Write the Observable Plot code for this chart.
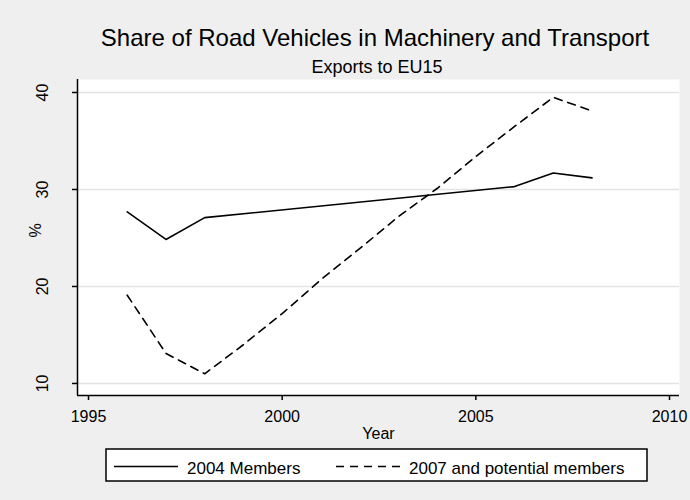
<!DOCTYPE html>
<html>
<head>
<meta charset="utf-8">
<script src="https://cdn.jsdelivr.net/npm/d3@7"></script>
<script src="https://cdn.jsdelivr.net/npm/@observablehq/plot@0.6"></script>
<style>
  html, body { margin: 0; padding: 0; background: #efefef; }
  #wrap { position: relative; width: 690px; height: 500px; background: #efefef; overflow: hidden; }
  #wrap > svg { position: absolute; left: 0; top: 0; }
</style>
</head>
<body>
<div id="wrap"></div>
<script>
// ---- data ----
const titleText = "Share of Road Vehicles in Machinery and Transport";
const subtitleText = "Exports to EU15";
const xLabel = "Year";
const yLabel = "%";
const xTicks = [1995, 2000, 2005, 2010];
const yTicks = [10, 20, 30, 40];
const seriesNames = ["2004 Members", "2007 and potential members"];

const years2004 = [1996, 1997, 1998, 2006, 2007, 2008];
const values2004 = [27.7, 24.85, 27.1, 30.3, 31.7, 31.2];

const years2007 = [1996, 1997, 1998, 1999, 2000, 2001, 2002, 2003, 2004, 2005, 2006, 2007, 2008];
const values2007 = [19.1, 13.1, 11.0, 14.0, 17.2, 20.7, 23.9, 27.2, 30.1, 33.4, 36.5, 39.5, 38.1];

const data2004 = years2004.map((y, i) => ({year: y, value: values2004[i], series: seriesNames[0]}));
const data2007 = years2007.map((y, i) => ({year: y, value: values2007[i], series: seriesNames[1]}));

const xDomain = [1994.716, 2010.258];
const yDomain = [8.76, 41.34];
const font = "'Liberation Sans', Arial, sans-serif";

const chart = Plot.plot({
  width: 690,
  height: 500,
  marginLeft: 77,
  marginRight: 11,
  marginTop: 79,
  marginBottom: 105,
  style: {background: "transparent", fontFamily: font, fontSize: "16px", color: "black"},
  x: {domain: xDomain},
  y: {domain: yDomain},
  marks: [
    Plot.frame({fill: "white", stroke: null}),
    Plot.ruleY(yTicks, {stroke: "#e4e4e4", strokeWidth: 1.5}),
    Plot.axisX({ticks: xTicks, tickFormat: "d", tickSize: 5, tickPadding: 10, fontSize: 16, strokeWidth: 1.5, label: null}),
    Plot.axisY({ticks: yTicks, tickFormat: "d", tickSize: 5, tickPadding: 25, tickRotate: -90, fontSize: 16, strokeWidth: 1.5, label: null}),
    Plot.ruleX([xDomain[0]], {strokeWidth: 1.5, stroke: "black"}),
    Plot.ruleY([yDomain[0]], {strokeWidth: 1.5, stroke: "black"}),
    Plot.text([xLabel], {frameAnchor: "bottom", dy: 43, fontSize: 16, lineAnchor: "bottom"}),
    Plot.text([yLabel], {frameAnchor: "left", dx: -42, rotate: -90, fontSize: 16}),
    Plot.line(data2004, {x: "year", y: "value", stroke: "black", strokeWidth: 1.6}),
    Plot.line(data2007, {x: "year", y: "value", stroke: "black", strokeWidth: 1.6, strokeDasharray: "8,6"})
  ]
});
document.getElementById("wrap").appendChild(chart);

// ---- titles and legend overlay ----
const svg = d3.select("#wrap").append("svg")
  .attr("width", 690).attr("height", 500)
  .style("font-family", font)
  .style("pointer-events", "none");

svg.append("text").attr("x", 375).attr("y", 46).attr("text-anchor", "middle")
  .attr("font-size", 24).attr("fill", "black").text(titleText);
svg.append("text").attr("x", 377).attr("y", 73).attr("text-anchor", "middle")
  .attr("font-size", 18).attr("fill", "black").text(subtitleText);

const lg = svg.append("g");
lg.append("rect").attr("x", 106).attr("y", 449).attr("width", 541).attr("height", 32)
  .attr("fill", "white").attr("stroke", "black").attr("stroke-width", 1.5);
lg.append("line").attr("x1", 114).attr("x2", 178).attr("y1", 466.5).attr("y2", 466.5)
  .attr("stroke", "black").attr("stroke-width", 1.6);
lg.append("text").attr("x", 187).attr("y", 474).attr("font-size", 17).text(seriesNames[0]);
lg.append("line").attr("x1", 336).attr("x2", 401).attr("y1", 466.5).attr("y2", 466.5)
  .attr("stroke", "black").attr("stroke-width", 1.6).attr("stroke-dasharray", "8,6");
lg.append("text").attr("x", 409).attr("y", 474).attr("font-size", 17).text(seriesNames[1]);
</script>
</body>
</html>
